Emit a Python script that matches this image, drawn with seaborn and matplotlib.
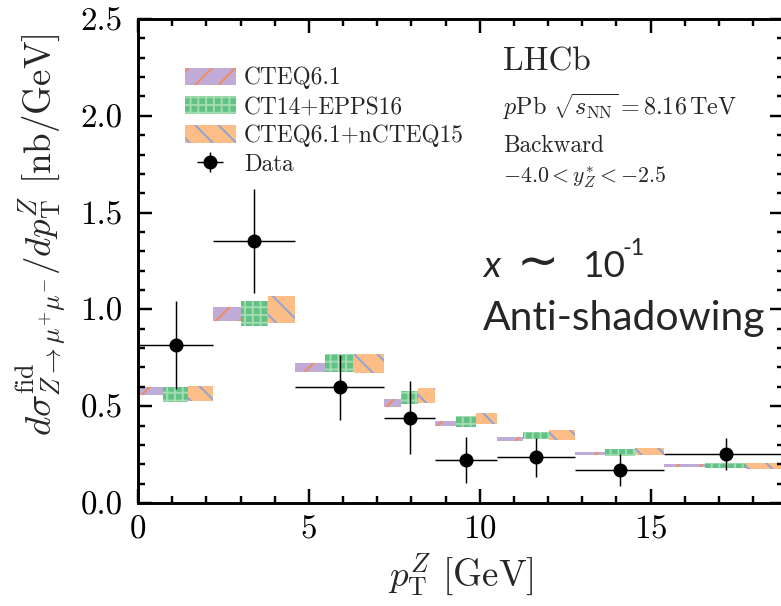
import numpy as np
import matplotlib
matplotlib.use("Agg")
import matplotlib.pyplot as plt
from matplotlib.lines import Line2D
from matplotlib.legend_handler import HandlerTuple
import seaborn as sns

# pT bin edges [GeV]
bin_edges = [0.0, 2.2, 4.6, 7.2, 8.7, 10.5, 12.8, 15.4, 19.0]

# Measured cross-section (nb/GeV)
data_x = [1.1, 3.4, 5.9, 7.95, 9.6, 11.65, 14.1, 17.2]
data_y = [0.816, 1.353, 0.598, 0.441, 0.222, 0.236, 0.170, 0.253]
data_err = [0.225, 0.267, 0.167, 0.190, 0.120, 0.100, 0.082, 0.084]

# Theory uncertainty bands (low, high)
cteq61_lo = [0.558, 0.942, 0.675, 0.497, 0.398, 0.322, 0.248, 0.188]
cteq61_hi = [0.601, 1.014, 0.725, 0.536, 0.425, 0.342, 0.265, 0.201]
epps16_lo = [0.523, 0.916, 0.675, 0.510, 0.394, 0.329, 0.244, 0.182]
epps16_hi = [0.598, 1.043, 0.770, 0.580, 0.449, 0.368, 0.277, 0.205]
ncteq15_lo = [0.527, 0.928, 0.670, 0.515, 0.407, 0.325, 0.248, 0.176]
ncteq15_hi = [0.604, 1.069, 0.770, 0.592, 0.463, 0.377, 0.286, 0.205]

model_names = ["CTEQ6.1", "CT14+EPPS16", "CTEQ6.1+nCTEQ15"]

sns.set_theme(style="ticks")
plt.rcParams.update({
    "font.family": "serif",
    "font.serif": ["cmr10", "DejaVu Serif"],
    "mathtext.fontset": "cm",
    "axes.formatter.use_mathtext": True,
    "axes.unicode_minus": False,
    "axes.axisbelow": False,
    "axes.linewidth": 1.5,
    "hatch.linewidth": 1.0,
    "axes.edgecolor": "black",
    "xtick.color": "black",
    "ytick.color": "black",
})

DPI = 140
fig = plt.figure(figsize=(781 / DPI, 606 / DPI), dpi=DPI)
ax = fig.add_axes([0.1767, 0.170, 0.8271, 0.7986])

edges = np.asarray(bin_edges)
widths = np.diff(edges) / 3.0

styles = [
    dict(lo=cteq61_lo, hi=cteq61_hi, face="#c0aad6", hatchc="#f28c5c", hatch="//"),
    dict(lo=epps16_lo, hi=epps16_hi, face="#62c286", hatchc="#a2dcb0", hatch="+++"),
    dict(lo=ncteq15_lo, hi=ncteq15_hi, face="#fdbd86", hatchc="#8fa4d4", hatch="\\\\"),
]
bar_handles = []
for i, (name, st) in enumerate(zip(model_names, styles)):
    lo = np.asarray(st["lo"])
    hi = np.asarray(st["hi"])
    bars = ax.bar(edges[:-1] + i * widths, hi - lo, width=widths, bottom=lo,
                  align="edge", color=st["face"], edgecolor=st["hatchc"],
                  hatch=st["hatch"], linewidth=0, label=name, zorder=2)
    bar_handles.append(bars)

xerr_lo = np.asarray(data_x) - edges[:-1]
xerr_hi = edges[1:] - np.asarray(data_x)
ax.errorbar(data_x, data_y, xerr=[xerr_lo, xerr_hi], yerr=data_err,
            fmt="o", color="black", ms=6.2, ecolor="black",
            elinewidth=0.75, capsize=0, zorder=4)
sns.scatterplot(x=data_x, y=data_y, ax=ax, color="black", s=38,
                edgecolor="black", linewidth=0, zorder=5, legend=False)

ax.set_xlim(0, 18.9)
ax.set_ylim(0, 2.5)
ax.set_xticks([0, 5, 10, 15])
ax.set_xticks(np.arange(0, 19, 1), minor=True)
ax.set_yticks([0.0, 0.5, 1.0, 1.5, 2.0, 2.5])
ax.set_yticks(np.arange(0, 2.51, 0.1), minor=True)
ax.set_yticklabels(["0.0", "0.5", "1.0", "1.5", "2.0", "2.5"])
ax.tick_params(axis="both", which="both", direction="in", top=True,
               right=True, bottom=True, left=True, color="black", width=1.25,
               zorder=10)
ax.tick_params(axis="both", which="major", length=7.4, labelsize=17, pad=6)
ax.tick_params(axis="both", which="minor", length=3.7)
ax.tick_params(axis="y", which="major", pad=8)
for sp in ax.spines.values():
    sp.set_visible(True)
    sp.set_color("black")
    sp.set_linewidth(1.5)
    sp.set_zorder(10)

ax.set_xlabel(r"$p_{\rm T}^{Z}$ [GeV]", fontsize=19)
ax.set_ylabel(r"$d\sigma^{\rm fid}_{Z\to\mu^{+}\mu^{-}}/dp_{\rm T}^{Z}$ [nb/GeV]",
              fontsize=19)
ax.yaxis.set_label_coords(-0.108, 0.555)

# Legend: model bands plus the data symbol (dot with error strokes)
data_symbol = (
    Line2D([], [], ls="none", marker="_", ms=13, mew=0.75, color="black"),
    Line2D([], [], ls="none", marker="|", ms=10, mew=0.75, color="black"),
    Line2D([], [], ls="none", marker="o", ms=6.2, color="black"),
)
ax.legend(bar_handles + [data_symbol], model_names + ["Data"],
          loc="upper left", bbox_to_anchor=(0.054, 0.925), frameon=False,
          fontsize=12, handlelength=2.2, handleheight=0.75,
          handletextpad=0.35, labelspacing=0.28, borderpad=0,
          handler_map={tuple: HandlerTuple(ndivide=1, pad=0)})

# Experiment annotations
tx = 0.5646
ax.text(tx, 0.8946, "LHCb", transform=ax.transAxes, fontsize=17, va="baseline")
ax.text(tx, 0.8017, r"$p$Pb $\sqrt{s_{\rm NN}}=8.16\,{\rm TeV}$",
        transform=ax.transAxes, fontsize=12.4, va="baseline")
ax.text(tx, 0.725, "Backward", transform=ax.transAxes, fontsize=12, va="baseline")
ax.text(tx, 0.662, r"$-4.0<y^{*}_{Z}<-2.5$", transform=ax.transAxes,
        fontsize=11.3, va="baseline")

# x region annotation
sans = ["Lato", "DejaVu Sans"]
ax.text(0.5345, 0.4676, "x", transform=ax.transAxes, fontsize=19,
        family=sans, style="italic", va="baseline")
ax.text(0.5860, 0.4676, "\u223c", transform=ax.transAxes, fontsize=26,
        family=["DejaVu Sans"], va="baseline")
ax.text(0.6889, 0.4676, "10", transform=ax.transAxes, fontsize=19,
        family=sans, va="baseline")
ax.text(0.7500, 0.5120, "-1", transform=ax.transAxes, fontsize=12,
        family=sans, va="baseline")
ax.text(0.5345, 0.3574, "Anti-shadowing", transform=ax.transAxes, fontsize=21,
        family=sans, va="baseline", clip_on=False)

fig.savefig("out.png", dpi=DPI)
